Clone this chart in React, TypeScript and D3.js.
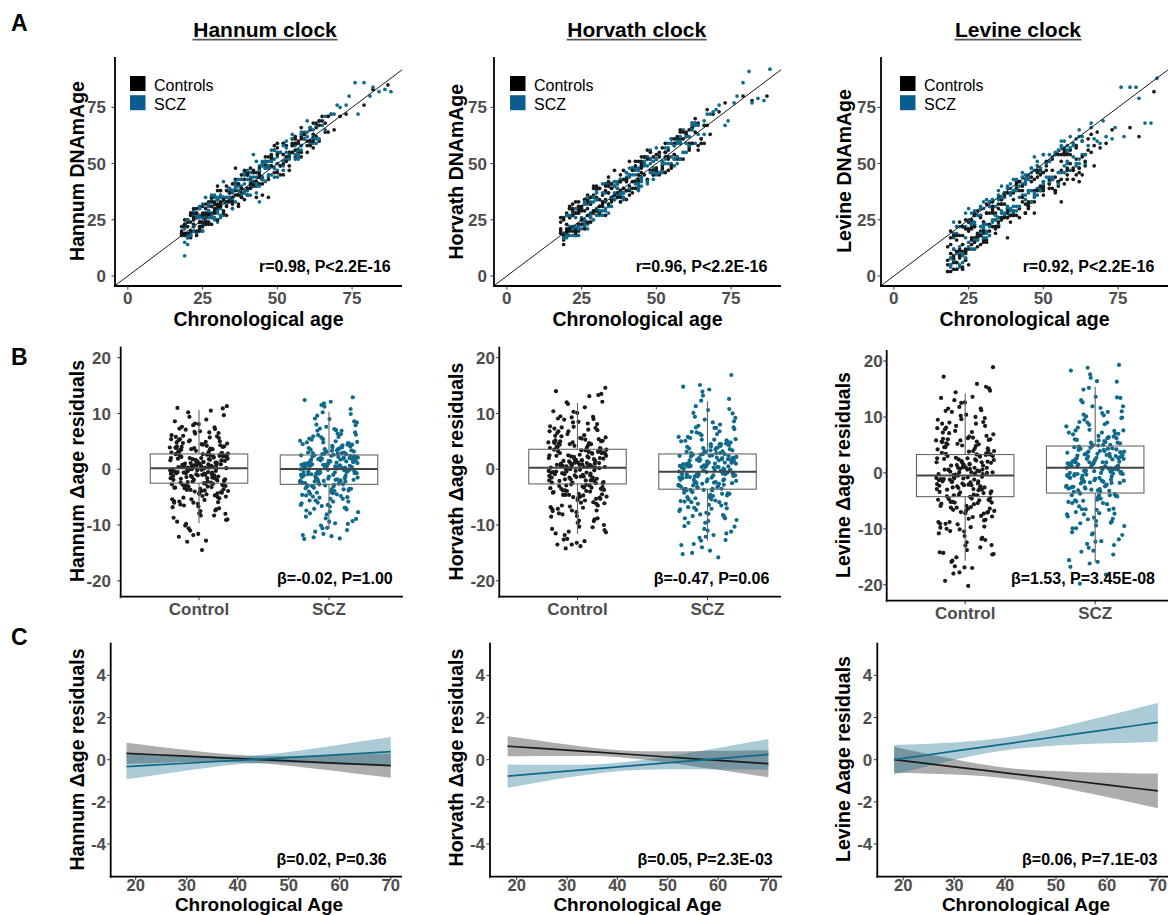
import React from "react";
import * as d3 from "d3";

const FONT = "'Liberation Sans', Arial, Helvetica, sans-serif";
const BLACK = "#1a1a1a";
const BLUE = "#0f6a8c";
const LEGEND_BLUE = "#0b5d8f";
const TICK_GRAY = "#4d4d4d";

// ---------------- DATA ----------------
const clockTitles = ["Hannum clock", "Horvath clock", "Levine clock"];
const clockNames = ["Hannum", "Horvath", "Levine"];
const legendLabels = ["Controls", "SCZ"];
const groups = ["Control", "SCZ"];
const scatterTicks = [0, 25, 50, 75];
const residTicks = [-20, -10, 0, 10, 20];
const smoothYTicks = [-4, -2, 0, 2, 4];
const smoothXTicks = [20, 30, 40, 50, 60, 70];
const corrLabels = ["r=0.98, P<2.2E-16", "r=0.96, P<2.2E-16", "r=0.92, P<2.2E-16"];
const residLabels = ["β=-0.02, P=1.00", "β=-0.47, P=0.06", "β=1.53, P=3.45E-08"];
const smoothLabels = ["β=0.02, P=0.36", "β=0.05, P=2.3E-03", "β=0.06, P=7.1E-03"];

// chronological ages (same samples for all clocks)
const agesControl = [
  22,35,48,19,27,56,41,63,30,24, 52,38,45,21,60,33,29,47,54,18,
  26,39,58,43,31,66,23,50,36,20, 44,62,28,53,40,25,57,34,49,19,
  71,32,46,61,37,22,55,42,27,64, 30,51,24,59,35,45,20,68,38,48,
  26,56,33,41,63,21,52,29,44,36, 58,23,47,39,65,31,54,25,42,60,
  18,50,34,57,28,46,37,62,22,53, 40,30,67,26,49,35,55,43,24,61,
  32,45,20,58,38,51,27,44,64,33, 48,21,56,40,29,52,36,79,23,87,
  19,24,31,27,45,21,36,58,23,50, 29,42,18,33,55,26,61,38,20,47,
  25,53,34,22,40,64,28,19,57,44, 37,21,49,30,24,62,35,46,27,56,
  20,43,32,59,26,39,23,51,66,30, 48,18,35,28,54,41,22,63,33,45,
  26,57,31,19,39,50,24,36,60,29, 43,21,53,34,27,47,65,23,38,56,
  30,18,44,25,61,35,49,22,41,28, 52,33,20,46,38,58,26,31,69,24,
  40,27,55,19,34,62,45,29,21,50, 37,59,23,42,32,54,25,73,82,67,
];
const agesSCZ = [
  25,41,33,57,20,46,29,62,37,52, 23,44,31,59,27,49,35,65,21,54,
  39,28,47,34,61,19,43,56,30,50, 26,38,53,22,45,67,32,58,40,24,
  48,36,63,28,42,55,20,51,33,60, 45,27,38,57,24,49,35,64,30,43,
  53,21,40,59,29,46,34,70,25,50, 37,62,31,44,55,22,48,39,58,27,
  42,33,52,19,47,36,61,26,41,56, 30,45,68,23,39,54,35,50,28,43,
  76,32,58,38,47,24,63,81,44,35, 84,29,52,73,40,88,31,77,48,66,
  21,34,26,48,19,40,30,57,23,44, 28,52,36,20,46,25,61,32,39,55,
  24,42,29,63,22,37,50,27,45,33, 58,20,41,31,53,26,35,47,22,60,
  30,44,19,38,56,27,49,34,64,24, 41,23,52,29,36,59,21,46,32,54,
  26,39,62,20,43,30,51,25,37,57, 33,48,22,41,28,55,35,19,45,66,
  27,53,31,40,24,58,36,47,21,50, 38,25,62,29,44,34,56,23,42,71,
  32,49,20,37,60,28,46,35,53,26, 43,74,30,79,39,86,57,69,45,82,
];

// DNAmAge per clock
const hannumControl = [
  25,33,53,19,33,53,43,62,34,20, 59,39,43,24,55,38,29,53,53,20,
  25,43,66,40,32,64,28,50,43,18, 46,68,23,52,45,28,55,35,58,23,
  71,29,49,65,31,23,61,41,29,60, 38,49,24,61,38,41,25,72,37,49,
  27,61,32,48,66,18,45,33,44,42, 55,26,49,37,71,38,55,24,46,60,
  22,46,39,60,26,48,32,63,28,58, 39,32,64,30,56,35,58,35,22,66,
  35,43,22,53,43,55,24,45,67,33, 52,20,56,46,32,50,38,76,30,85,
  22,21,38,28,43,27,36,62,18,59, 28,47,19,27,59,28,58,45,24,35,
  31,53,37,20,36,69,35,18,59,41, 41,17,48,40,26,57,33,51,27,59,
  25,42,28,63,24,47,26,45,68,31, 54,19,32,31,47,41,26,68,40,43,
  23,56,33,25,34,54,24,48,58,32, 46,28,51,33,32,43,69,20,39,62,
  25,18,48,27,60,41,46,30,39,33, 54,31,19,53,35,61,32,31,65,22,
  45,23,55,23,37,60,36,30,20,57, 36,63,28,40,34,49,22,72,83,71,
];
const hannumSCZ = [
  23,46,35,56,14,50,35,59,38,59, 26,44,27,64,31,44,38,67,18,55,
  45,27,48,38,59,9,51,59,30,47, 28,36,60,27,44,71,27,58,43,21,
  49,41,59,35,42,58,24,49,32,69, 49,24,40,52,30,52,35,69,28,44,
  52,28,38,61,30,42,38,76,20,55, 40,61,36,41,61,22,56,38,56,31,
  44,33,49,22,51,42,60,24,36,58, 35,44,72,19,46,52,37,53,28,37,
  86,35,58,35,49,31,67,80,49,34, 82,28,58,76,36,82,35,72,51,71,
  19,39,26,51,15,47,29,54,27,33, 34,51,40,17,48,20,66,33,37,63,
  27,42,25,61,29,41,44,29,51,32, 63,18,42,26,52,35,38,44,22,62,
  34,40,21,43,54,26,56,34,61,30, 40,26,47,36,33,63,19,48,42,54,
  26,45,65,25,41,24,55,26,36,53, 35,45,20,44,36,55,30,23,50,65,
  32,57,30,36,26,64,39,45,18,50, 36,32,62,26,47,35,52,28,54,75,
  35,48,17,43,64,26,51,30,55,26, 40,80,34,86,41,83,56,72,43,84,
];
const horvathControl = [
  30,35,52,16,35,58,38,64,29,33, 49,45,46,20,64,34,39,43,56,21,
  32,35,61,51,31,59,28,52,34,28, 43,68,35,53,34,29,53,44,53,19,
  73,31,53,59,39,20,59,42,36,58, 34,45,30,64,34,53,23,63,42,47,
  24,59,41,40,68,26,47,35,45,47, 59,18,53,43,61,39,52,31,37,62,
  26,54,32,52,32,53,37,66,22,46, 43,39,67,25,45,41,61,42,29,57,
  33,50,21,65,33,53,34,42,68,41, 52,30,52,42,28,57,40,80,21,80,
  26,23,39,24,48,31,36,52,28,52, 36,39,19,38,48,34,65,38,18,56,
  25,59,40,32,38,56,26,25,62,39, 41,26,45,40,20,66,34,53,30,54,
  19,49,36,52,34,39,19,55,67,29, 55,24,33,35,53,36,27,70,27,49,
  29,61,28,18,47,48,31,36,63,40, 39,21,55,42,27,52,59,33,35,61,
  35,20,51,23,56,39,47,29,51,24, 48,40,20,45,42,64,21,34,72,28,
  43,33,49,14,37,59,51,29,30,47, 35,61,20,47,32,47,30,77,78,74,
];
const horvathSCZ = [
  23,45,29,59,18,53,29,59,42,51, 28,40,31,65,23,51,41,61,21,59,
  37,32,41,41,62,18,47,54,38,45, 23,43,55,22,42,72,33,52,44,18,
  50,34,67,24,48,53,19,54,37,55, 44,34,33,60,23,43,39,63,27,48,
  57,18,42,55,33,50,31,74,25,48, 37,68,29,47,50,28,56,37,59,21,
  48,33,46,17,49,42,58,24,48,58, 29,49,72,18,39,50,39,57,28,39,
  77,29,62,36,42,28,59,91,48,35, 79,35,50,67,46,92,27,80,46,63,
  22,40,22,52,17,38,37,53,26,38, 33,47,40,19,53,26,58,41,34,59,
  22,45,29,68,18,39,46,32,43,41, 52,27,45,28,55,25,35,53,21,59,
  34,39,19,43,52,35,48,28,67,21, 39,30,51,25,42,55,22,49,27,57,
  32,37,67,17,45,30,46,23,41,50, 30,52,22,44,26,61,35,17,40,69,
  35,50,29,46,21,60,37,42,27,52, 37,21,65,35,41,37,49,22,48,76,
  37,46,18,36,62,27,51,31,52,33, 41,69,34,86,35,78,60,73,44,77,
];
const levineControl = [
  18,22,46,8,28,47,27,60,24,12, 51,28,30,16,48,33,20,43,38,5,
  16,37,45,38,16,63,22,39,32,6, 41,48,19,52,29,21,41,28,47,14,
  59,28,33,52,37,12,42,30,22,49, 19,49,11,56,26,31,12,64,26,47,
  21,43,22,42,53,6,41,27,28,26, 54,14,33,27,56,28,38,12,38,43,
  2,40,22,55,17,33,32,48,11,47, 27,20,49,14,40,32,40,35,10,57,
  23,31,3,47,26,47,12,28,51,28, 38,3,51,27,14,43,25,66,3,82,
  20,11,28,17,44,3,34,43,18,38, 18,42,2,29,42,25,58,17,18,38,
  20,39,22,24,37,54,13,10,56,28, 36,18,38,16,7,46,30,44,27,33,
  8,33,31,50,22,24,4,51,55,24, 44,7,22,29,44,39,8,45,30,33,
  17,54,15,17,27,36,25,32,47,18, 40,6,43,21,22,28,61,11,37,54,
  15,13,32,24,45,24,45,9,41,18, 39,31,9,42,29,48,12,32,57,21,
  34,15,54,2,19,42,32,26,11,46, 26,54,22,26,20,37,5,65,62,58,
];
const levineSCZ = [
  24,31,34,49,7,48,22,62,35,41, 14,45,23,62,24,39,34,58,6,54,
  36,17,47,27,49,5,41,57,21,42, 28,30,43,5,44,61,33,55,28,17,
  51,34,54,18,42,42,17,44,22,59, 37,27,40,54,8,48,26,50,33,36,
  53,19,29,47,30,38,31,69,15,54, 36,52,19,42,56,4,39,41,51,23,
  35,34,51,10,35,28,61,23,43,46, 17,43,60,9,39,55,24,41,16,46,
  84,22,56,31,36,7,62,84,41,35, 68,27,42,61,31,88,17,62,49,66,
  22,25,24,36,5,43,22,57,6,43, 18,54,29,19,33,30,50,33,37,46,
  22,31,31,60,13,27,54,12,45,25, 50,7,40,34,43,23,23,53,22,53,
  30,36,4,39,58,16,46,25,54,28, 29,22,44,19,40,57,10,48,18,54,
  23,29,65,12,44,17,50,13,37,46, 24,49,10,38,27,41,38,8,38,68,
  29,44,20,38,8,58,35,37,22,42, 30,25,50,30,34,27,60,10,40,62,
  31,38,24,28,58,16,46,36,43,12, 44,66,23,84,30,68,60,59,44,79,
];

// Δage residuals per clock
const residHannumControl = [
  0.3,-2.1,4.5,-5.8,1.2,7.9,-0.8,2.6,-3.4,0.9, -6.7,3.8,-1.5,5.2,-9.1,0.1,2.2,-4.3,6.4,-0.4,
  1.8,-2.9,10.9,-7.5,3.1,-1.1,0.6,-3.9,4.9,-5.1, 2.4,-0.2,8.6,-2.4,-10.6,1.5,-4.8,3.5,0.8,-1.9,
  6.1,-3.1,-0.6,2.9,-7.9,4.1,-2.6,1.1,11.3,-5.5, 0.4,-1.3,3.3,-8.7,5.7,-0.1,-3.6,2.0,-12.1,7.2,
  -2.2,1.6,-4.5,0.5,4.3,-6.2,2.7,-0.9,9.4,-3.0, 1.3,-1.7,5.9,-4.0,0.0,3.0,-9.8,-2.8,6.8,-0.5,
  2.1,-5.4,1.9,-1.0,4.7,-7.0,0.7,-3.3,3.7,10.2, -2.0,-14.5,2.5,-0.3,-6.0,5.4,-1.6,1.0,-4.1,8.1,
  -0.7,3.6,-11.0,0.2,-2.5,4.0,-5.0,1.7,-1.2,6.6, -3.7,2.3,-8.3,0.4,7.5,-1.4,3.9,-12.8,-0.6,5.0,
  1.4,-3.3,0.6,5.0,-1.8,2.7,-6.3,0.2,3.8,-2.7, -0.5,7.1,-4.2,1.0,-9.4,2.3,-1.2,4.6,-3.8,0.8,
  6.5,-0.9,-5.7,1.7,-2.3,9.7,-0.1,3.2,-7.4,0.5, -1.6,4.2,-3.0,0.9,-11.6,5.8,-0.6,2.0,-4.9,1.3,
  3.5,-2.0,8.2,-6.8,0.3,-1.4,4.0,-3.5,1.9,-8.3, 0.0,2.8,-2.6,6.0,-5.2,1.1,-0.4,10.5,-3.1,2.4,
  -1.0,5.4,-7.2,0.7,3.0,-2.2,-10.1,1.6,-4.4,4.8, 0.4,-3.7,2.2,-0.8,7.6,-5.9,1.5,-1.9,3.4,-13.0,
  -2.9,0.6,5.2,-4.7,1.8,-0.2,8.9,-6.5,2.6,-1.1, 3.9,-3.2,0.1,-8.0,4.4,-2.4,1.2,6.7,-5.4,0.9,
  -0.7,2.9,-4.1,11.0,-1.5,3.6,-9.0,0.3,-2.8,5.6, 1.0,-6.0,2.5,-0.3,4.1,-3.9,7.3,-1.7,-11.8,2.0,
];
const residHannumSCZ = [
  -0.4,2.3,-3.6,5.5,-1.2,0.8,-6.4,3.4,-2.2,9.9, 1.1,-4.7,0.2,7.3,-8.9,2.6,-0.9,4.4,-2.9,-11.8,
  0.6,-1.6,12.9,-5.3,3.0,-0.2,1.9,-7.7,5.0,-3.2, 2.0,-10.5,0.4,6.3,-2.5,-0.7,3.9,-4.4,1.4,11.8,
  -6.1,2.8,-1.3,0.1,-9.4,4.8,-2.7,1.6,8.4,-3.9, 0.9,-5.8,3.2,-0.5,-12.4,6.9,-1.9,2.4,-4.0,0.3,
  10.2,-2.1,1.2,-7.1,4.1,-0.1,-3.4,2.9,-5.1,7.9, -1.0,0.7,-10.9,3.6,-2.4,5.8,-0.8,1.8,-6.7,-3.0,
  2.1,11.5,-1.5,0.5,-4.9,4.6,-8.1,1.0,-2.0,6.1, -0.3,3.3,-5.6,0.0,-11.6,2.5,-1.8,9.1,-3.5,1.5,
  -7.4,4.3,-0.6,2.2,-2.8,5.3,-9.8,0.8,-1.1,3.7, -4.2,1.3,12.1,-0.4,-6.9,2.7,-2.3,7.0,-12.2,0.6,
  0.9,-2.5,4.0,-0.8,6.6,-4.3,1.5,-7.2,2.8,-1.4, 3.6,-5.6,0.4,9.0,-2.9,1.9,-10.1,4.9,-0.6,2.3,
  -3.8,7.6,-1.1,0.7,-6.0,3.2,-12.0,1.2,-2.2,5.4, 0.0,-4.5,2.5,10.8,-1.7,-8.5,3.9,-0.3,6.2,-3.1,
  1.7,-5.0,0.2,4.5,-2.6,8.0,-9.3,1.4,-0.9,3.0, -6.6,2.1,-1.9,5.9,-3.5,0.6,12.4,-4.8,1.8,-0.4,
  4.2,-7.9,2.7,-2.1,0.8,6.4,-11.2,3.4,-1.3,1.0, -5.3,2.0,-0.7,7.2,-3.0,4.7,-8.8,0.5,-2.4,9.6,
  1.3,-4.1,3.8,-1.6,-10.6,5.1,0.1,-3.3,2.4,-6.4, 0.3,6.9,-2.7,1.6,-5.8,3.5,-0.5,11.2,-4.6,2.2,
  -1.8,4.4,-7.6,0.9,-3.6,5.7,1.1,-9.7,2.9,-0.2, 3.1,-12.5,1.7,-2.0,8.6,-4.0,0.6,-6.9,4.8,-1.0,
];
const residHorvathControl = [
  0.5,-3.2,5.6,-7.1,1.8,9.3,-1.2,3.4,-4.6,0.2, -8.4,4.7,-2.0,6.8,-10.9,0.9,2.9,-5.3,7.6,-0.6,
  2.3,-3.8,13.5,-9.2,4.0,-1.5,1.1,-4.9,6.1,-6.5, 3.1,-0.3,10.4,-2.9,-12.5,1.9,-6.0,4.6,1.0,-2.4,
  7.7,-3.9,-0.8,3.8,-9.6,5.2,-3.3,1.4,14.6,-6.9, 0.7,-1.7,4.2,-10.7,7.1,0.0,-4.5,2.6,-13.5,9.0,
  -2.7,2.0,-5.6,0.6,5.4,-7.7,3.5,-1.1,11.7,-3.7, 1.6,-2.1,7.4,-5.0,0.3,3.9,-11.8,-3.5,8.5,-0.4,
  2.8,-6.7,2.4,-1.3,5.9,-8.8,1.2,-4.2,4.7,12.0, -2.5,-13.8,3.2,-0.2,-7.4,6.8,-2.0,1.5,-5.1,10.1,
  -0.9,4.5,-11.2,0.4,-3.1,5.0,-6.2,2.2,-1.5,8.2, -4.6,2.9,-10.3,0.8,9.4,-1.8,4.8,-12.9,-0.7,13.3,
  1.7,-4.1,0.8,6.3,-2.3,3.4,-7.9,0.3,4.8,-3.4, -0.6,8.9,-5.3,1.2,-11.5,2.9,-1.5,5.7,-4.7,1.0,
  8.1,-1.1,-7.2,2.1,-2.9,12.1,-0.1,4.0,-9.3,0.6, -2.0,5.3,-3.8,1.1,-13.2,7.3,-0.8,2.5,-6.1,1.6,
  4.4,-2.5,10.3,-8.5,0.4,-1.8,5.0,-4.4,2.4,-10.4, 0.0,3.5,-3.3,7.5,-6.5,1.4,-0.5,13.1,-3.9,3.0,
  -1.3,6.8,-9.0,0.9,3.8,-2.8,-12.6,2.0,-5.5,6.0, 0.5,-4.6,2.8,-1.0,9.5,-7.4,1.9,-2.4,4.3,-14.2,
  -3.6,0.8,6.5,-5.9,2.3,-0.3,11.1,-8.1,3.3,-1.4, 4.9,-4.0,0.2,-10.0,5.5,-3.0,1.5,8.4,-6.8,1.1,
  -0.9,3.6,-5.1,14.0,-1.9,4.5,-11.3,0.4,-3.5,7.0, 1.3,-7.5,3.1,-0.4,5.1,-4.9,9.1,-2.1,-13.5,2.5,
];
const residHorvathSCZ = [
  -1.0,2.0,-4.6,5.8,-1.8,0.4,-7.5,3.6,-2.9,10.8, 0.9,-5.8,-0.3,7.8,-10.3,2.5,-1.4,4.6,-3.7,-13.6,
  0.4,-2.2,16.9,-6.4,3.1,-0.8,1.7,-9.1,5.3,-4.0, 1.8,-12.1,0.1,6.8,-3.2,-1.2,4.1,-5.4,1.2,13.9,
  -7.2,2.9,-1.9,-0.2,-11.0,5.1,-3.5,1.5,9.2,-4.8, 0.6,-7.0,3.3,-0.9,-15.8,7.5,-2.5,2.4,-5.0,0.1,
  12.3,-2.8,1.0,-8.4,4.3,-0.5,-4.2,2.9,-6.2,8.6, -1.5,0.5,-12.7,3.8,-3.1,6.3,-1.3,1.7,-8.0,-3.8,
  2.0,15.1,-2.1,0.3,-5.9,4.8,-9.6,0.9,-2.6,6.6, -0.7,3.4,-6.8,-0.1,-14.0,2.4,-2.3,10.1,-4.4,1.4,
  -8.8,4.5,-1.0,2.1,-3.5,5.6,-11.5,0.7,-1.6,3.9, -5.2,1.2,14.3,-0.9,-8.2,2.6,-2.9,7.4,-15.0,0.5,
  0.6,-3.6,4.5,-1.3,7.5,-5.4,1.0,-8.8,2.7,-1.9, 3.8,-6.9,-0.1,10.6,-3.5,1.8,-12.3,5.4,-1.1,2.3,
  -4.7,8.9,-1.6,0.4,-7.3,3.4,-14.6,1.0,-2.8,6.1, -0.4,-5.6,2.6,12.6,-2.2,-10.2,4.2,-0.7,7.2,-3.8,
  1.6,-6.2,-0.2,5.0,-3.2,9.4,-11.2,1.2,-1.4,3.2, -8.1,2.2,-2.4,6.7,-4.3,0.4,14.8,-5.9,1.7,-0.8,
  4.5,-9.6,2.7,-2.6,0.6,7.4,-13.4,3.6,-1.8,0.9, -6.5,2.0,-1.1,8.4,-3.7,5.2,-10.7,0.3,-3.0,11.3,
  1.2,-5.0,4.0,-2.0,-12.8,5.8,-0.2,-4.1,2.4,-7.8, 0.1,8.0,-3.3,1.5,-7.1,3.7,-0.9,13.2,-5.7,2.1,
  -2.3,4.8,-9.3,0.8,-4.4,6.4,1.0,-11.8,2.9,-0.6, 3.1,-15.2,1.6,-2.5,10.0,-4.9,0.5,-8.5,5.3,-1.5,
];
const residLevineControl = [
  -0.8,-4.4,6.2,-9.1,1.9,11.8,-2.0,3.9,-6.2,0.0, -11.3,5.5,-3.1,8.4,-14.6,0.7,3.0,-7.3,9.6,-1.3,
  2.4,-5.2,15.1,-12.4,4.6,-2.4,0.9,-6.8,7.3,-8.8, 3.2,-1.0,13.4,-4.0,-16.7,1.8,-8.2,5.3,0.6,-3.5,
  9.5,-5.6,-1.6,4.4,-13.0,6.1,-4.9,1.4,18.9,-9.7, 0.5,-2.6,4.9,-14.2,8.8,-0.4,-6.4,2.6,-19.3,11.2,
  -3.9,1.9,-7.9,0.2,6.6,-10.5,3.6,-1.9,14.4,-5.3, 1.6,-3.0,9.1,-7.0,-0.2,4.3,-15.7,-4.8,10.4,-1.1,
  2.9,-9.2,2.3,-2.2,7.1,-12.0,1.1,-5.9,5.6,13.0, -3.6,-20.2,3.4,-0.7,-10.1,8.0,-2.9,1.3,-7.1,12.6,
  -1.5,5.1,-15.1,0.1,-4.3,6.0,-8.5,2.1,-2.3,10.0, -6.6,3.3,-13.8,0.6,11.5,-2.7,5.8,-17.0,-1.2,15.4,
  1.5,-5.5,0.4,7.5,-3.3,3.8,-10.0,-0.2,5.8,-4.8, -1.2,10.9,-7.0,1.0,-14.3,3.1,-2.4,6.9,-6.1,0.6,
  9.8,-1.9,-9.1,2.2,-4.0,14.7,-0.8,4.6,-11.8,0.1, -2.9,6.3,-5.2,0.9,-16.9,8.8,-1.5,2.7,-7.8,1.5,
  5.1,-3.6,12.5,-10.8,-0.1,-2.6,5.9,-5.9,2.5,-13.3, -0.5,3.9,-4.6,9.0,-8.4,1.4,-1.1,15.9,-5.3,3.3,
  -2.1,8.1,-11.6,0.7,4.2,-3.9,-15.9,2.0,-7.2,7.2, 0.3,-6.2,3.0,-1.7,11.5,-9.6,1.9,-3.4,4.8,-18.0,
  -4.9,0.6,7.8,-7.7,2.4,-0.9,13.6,-10.4,3.5,-2.2, 5.6,-5.4,-0.3,-12.9,6.5,-4.2,1.3,10.2,-8.8,0.9,
  -1.6,4.0,-6.8,17.2,-2.8,5.2,-14.5,0.1,-4.7,8.4, 1.0,-9.8,3.3,-1.0,6.0,-6.4,11.1,-3.0,-17.8,2.6,
];
const residLevineSCZ = [
  0.4,3.7,-3.1,7.6,-0.6,1.9,-7.4,5.0,-1.9,13.5, 2.2,-5.4,0.8,10.1,-11.1,3.9,-0.2,6.5,-3.0,-15.6,
  1.2,-1.1,19.3,-6.6,4.6,0.2,2.9,-9.5,7.2,-3.6, 3.0,-13.9,1.3,9.0,-2.6,-0.1,5.8,-5.1,2.4,17.6,
  -7.8,4.1,-1.0,0.6,-12.3,6.9,-3.2,2.5,11.9,-4.6, 1.5,-7.3,4.8,0.0,-18.2,10.4,-1.8,3.4,-4.9,0.8,
  15.2,-2.3,1.9,-9.0,6.2,0.3,-4.0,4.3,-6.5,11.0, -0.9,1.1,-14.6,5.4,-2.8,8.7,-0.5,2.6,-8.6,-3.4,
  2.9,18.8,-1.4,0.9,-6.0,7.0,-10.8,1.7,-2.1,9.5, 0.1,4.9,-7.0,0.5,-16.2,3.6,-1.6,13.0,-4.2,2.3,
  -9.9,6.4,-0.3,3.2,-3.3,8.1,-12.9,1.4,-0.8,5.5, -5.0,2.0,16.4,-0.2,-8.9,3.8,-2.5,10.7,-19.8,1.0,
  1.8,-2.6,6.2,0.2,9.8,-4.0,2.6,-8.2,4.5,-0.6, 5.7,-6.5,1.3,13.6,-2.5,3.4,-12.7,7.6,0.0,4.1,
  -3.8,11.9,-0.9,1.9,-7.4,5.3,-15.9,2.4,-1.8,8.6, 0.9,-5.4,4.3,16.3,-1.3,-10.6,6.3,0.4,9.9,-2.9,
  3.1,-6.4,1.1,7.2,-2.4,12.6,-11.9,2.7,-0.5,5.0, -8.3,3.8,-1.4,9.1,-4.1,1.6,18.3,-5.6,3.3,0.2,
  6.6,-9.9,4.4,-1.7,1.7,10.3,-14.1,5.4,-1.0,2.1, -6.6,3.5,-0.2,11.6,-3.1,7.5,-11.0,1.4,-2.3,14.9,
  2.8,-4.8,6.0,-1.2,-13.4,8.3,0.6,-3.7,4.2,-8.0, 1.2,10.9,-2.8,3.0,-7.2,5.9,-0.1,17.0,-5.2,3.9,
  -1.5,7.0,-9.4,2.0,-4.0,9.0,2.5,-12.2,4.7,0.7, 5.0,-16.8,3.2,-1.6,13.4,-4.4,1.9,-8.7,7.7,-0.4,
];

// boxplot statistics: [lower whisker, Q1, median, Q3, upper whisker]
const boxHannumControl = [-9.7, -2.5, 0.18, 2.74, 10.6];
const boxHannumSCZ = [-10.7, -2.7, 0.05, 2.56, 10.3];
const boxHorvathControl = [-11.6, -2.63, 0.29, 3.58, 11.9];
const boxHorvathSCZ = [-12.8, -3.58, -0.43, 2.74, 12.2];
const boxLevineControl = [-15.7, -4.25, -0.48, 3.28, 14.2];
const boxLevineSCZ = [-16.0, -3.6, 0.9, 4.8, 15.4];

// linear fits of Δage residuals vs chronological age, with 95% CI
const fitAges = [18.2, 24, 30, 36, 42, 48, 54, 60, 66, 70];
const fitHannumControl = [0.30, 0.235, 0.168, 0.10, 0.033, -0.034, -0.10, -0.17, -0.236, -0.28];
const loHannumControl = [-0.20, -0.16, -0.12, -0.11, -0.14, -0.24, -0.39, -0.56, -0.74, -0.86];
const hiHannumControl = [0.80, 0.63, 0.46, 0.31, 0.20, 0.17, 0.19, 0.22, 0.27, 0.30];
const fitHannumSCZ = [-0.33, -0.25, -0.168, -0.084, -0.004, 0.079, 0.161, 0.24, 0.325, 0.38];
const loHannumSCZ = [-0.93, -0.72, -0.51, -0.32, -0.18, -0.15, -0.18, -0.23, -0.28, -0.32];
const hiHannumSCZ = [0.27, 0.22, 0.17, 0.15, 0.18, 0.31, 0.50, 0.71, 0.93, 1.08];
const fitHorvathControl = [0.64, 0.547, 0.451, 0.355, 0.259, 0.163, 0.066, -0.03, -0.126, -0.19];
const loHorvathControl = [0.16, 0.18, 0.18, 0.17, 0.08, -0.07, -0.27, -0.48, -0.69, -0.83];
const hiHorvathControl = [1.12, 0.92, 0.72, 0.54, 0.43, 0.40, 0.40, 0.42, 0.44, 0.45];
const fitHorvathSCZ = [-0.78, -0.665, -0.545, -0.426, -0.307, -0.188, -0.068, 0.051, 0.17, 0.25];
const loHorvathSCZ = [-1.33, -1.09, -0.85, -0.65, -0.51, -0.46, -0.45, -0.46, -0.47, -0.48];
const hiHorvathSCZ = [-0.23, -0.24, -0.24, -0.21, -0.10, 0.09, 0.32, 0.56, 0.81, 0.98];
const fitLevineControl = [0.0, -0.166, -0.337, -0.509, -0.68, -0.851, -1.023, -1.194, -1.366, -1.48];
const loLevineControl = [-0.62, -0.65, -0.70, -0.78, -0.94, -1.18, -1.47, -1.77, -2.09, -2.30];
const hiLevineControl = [0.62, 0.32, 0.02, -0.24, -0.43, -0.53, -0.58, -0.62, -0.65, -0.66];
const fitLevineSCZ = [0.0, 0.198, 0.403, 0.608, 0.813, 1.018, 1.223, 1.428, 1.633, 1.77];
const loLevineSCZ = [-0.70, -0.36, -0.01, 0.29, 0.51, 0.64, 0.72, 0.78, 0.82, 0.85];
const hiLevineSCZ = [0.70, 0.75, 0.82, 0.93, 1.12, 1.40, 1.73, 2.08, 2.45, 2.69];

const scatterControl = [hannumControl, horvathControl, levineControl];
const scatterSCZ = [hannumSCZ, horvathSCZ, levineSCZ];
const residControl = [residHannumControl, residHorvathControl, residLevineControl];
const residSCZ = [residHannumSCZ, residHorvathSCZ, residLevineSCZ];
const boxControl = [boxHannumControl, boxHorvathControl, boxLevineControl];
const boxSCZ = [boxHannumSCZ, boxHorvathSCZ, boxLevineSCZ];
const fits = [
  [
    { fit: fitHannumControl, lo: loHannumControl, hi: hiHannumControl },
    { fit: fitHannumSCZ, lo: loHannumSCZ, hi: hiHannumSCZ },
  ],
  [
    { fit: fitHorvathControl, lo: loHorvathControl, hi: hiHorvathControl },
    { fit: fitHorvathSCZ, lo: loHorvathSCZ, hi: hiHorvathSCZ },
  ],
  [
    { fit: fitLevineControl, lo: loLevineControl, hi: hiLevineControl },
    { fit: fitLevineSCZ, lo: loLevineSCZ, hi: hiLevineSCZ },
  ],
];

// ---------------- LAYOUT ----------------
const layoutA = [
  { ax: 115, right: 402, gap: 9, ylabX: 84, ylabY: 171, titleX: 265, titleW: 145, xlabX: 258.5, ann: 390.7, legX: 130 },
  { ax: 494, right: 781, gap: 7, ylabX: 462.5, ylabY: 171.7, titleX: 636.7, titleW: 140, xlabX: 637.5, ann: 767.3, legX: 510 },
  { ax: 881, right: 1168, gap: 5, ylabX: 850.5, ylabY: 171, titleX: 1018, titleW: 127, xlabX: 1024.5, ann: 1154.3, legX: 900 },
];
const layoutB = [
  { ax: 120.7, right: 403, c1: 199, c2: 329, top: 346.7, bottom: 596.7, gap: 9.7, ylabX: 83.5, ylabY: 471, ann: 392.7 },
  { ax: 499.3, right: 781, c1: 577.5, c2: 707.5, top: 346.7, bottom: 596.7, gap: 4.3, ylabX: 462.5, ylabY: 471.5, ann: 769.3 },
  { ax: 886.7, right: 1168, c1: 965.2, c2: 1095.2, top: 350, bottom: 600.7, gap: 4, ylabX: 850, ylabY: 475, ann: 1155 },
];
const layoutC = [
  { ax: 110.7, right: 402, xd: [15.1, 72.2], gap: 4.7, ylabX: 83.5, ylabY: 759.5, xlabX: 259, ann: 386.7 },
  { ax: 490, right: 782, xd: [14.7, 72.7], gap: 5, ylabX: 462.5, ylabY: 757.5, xlabX: 637.5, ann: 772.7 },
  { ax: 877.3, right: 1168, xd: [14.9, 72.0], gap: 5, ylabX: 850, ylabY: 759, xlabX: 1026, ann: 1157.3 },
];

const TICK_FS = 17;
const TITLE_FS = 19.5;
const ANN_FS = 16;

function YAxis({ x, scale, ticks, gap }: any) {
  return (
    <g>
      {ticks.map((t: number) => (
        <g key={t}>
          <line x1={x - 3.5} x2={x} y1={scale(t)} y2={scale(t)} stroke="#333" strokeWidth={1} />
          <text x={x - gap} y={scale(t)} dy="0.36em" textAnchor="end" fontSize={TICK_FS} fontWeight="bold" fill={TICK_GRAY}>
            {t}
          </text>
        </g>
      ))}
    </g>
  );
}

function Axes({ x0, x1, y0, y1 }: any) {
  return (
    <g>
      <line x1={x0} x2={x0} y1={y0} y2={y1 + 1} stroke="#000" strokeWidth={1.8} />
      <line x1={x0 - 0.9} x2={x1} y1={y1} y2={y1} stroke="#000" strokeWidth={1.8} />
    </g>
  );
}

function ScatterPanel({ idx }: { idx: number }) {
  const L = layoutA[idx];
  const top = 57, bottom = 286;
  const xs = d3.scaleLinear().domain([-4.3, 91.7]).range([L.ax, L.right]);
  const ys = d3.scaleLinear().domain([-4.45, 97.4]).range([bottom, top]);
  const ctrl = scatterControl[idx];
  const scz = scatterSCZ[idx];
  const pts: { x: number; y: number; c: string }[] = [];
  const n = Math.max(agesControl.length, agesSCZ.length);
  for (let i = 0; i < n; i++) {
    if (i < agesControl.length && i < ctrl.length) pts.push({ x: agesControl[i], y: ctrl[i], c: BLACK });
    if (i < agesSCZ.length && i < scz.length) pts.push({ x: agesSCZ[i], y: scz[i], c: BLUE });
  }
  const d0 = xs.domain()[0], d1 = xs.domain()[1];
  return (
    <g>
      <text x={L.titleX} y={37.3} textAnchor="middle" fontSize={21} fontWeight="bold" fill="#000">
        {clockTitles[idx]}
      </text>
      <line x1={L.titleX - L.titleW / 2} x2={L.titleX + L.titleW / 2} y1={39.6} y2={39.6} stroke="#555" strokeWidth={1.6} />
      {pts.map((p, i) => (
        <circle key={i} cx={xs(p.x)} cy={ys(p.y)} r={1.85} fill={p.c} />
      ))}
      <line x1={xs(d0)} y1={ys(d0)} x2={xs(d1)} y2={ys(d1)} stroke="#000" strokeWidth={0.9} />
      <Axes x0={L.ax} x1={L.right} y0={top} y1={bottom} />
      <YAxis x={L.ax} scale={ys} ticks={scatterTicks} gap={L.gap} />
      {scatterTicks.map((t) => (
        <g key={t}>
          <line x1={xs(t)} x2={xs(t)} y1={bottom} y2={bottom + 3.5} stroke="#333" strokeWidth={1} />
          <text x={xs(t)} y={bottom + 17.5} textAnchor="middle" fontSize={TICK_FS} fontWeight="bold" fill={TICK_GRAY}>
            {t}
          </text>
        </g>
      ))}
      <text x={L.xlabX} y={326} textAnchor="middle" fontSize={TITLE_FS} fontWeight="bold" fill="#000">
        Chronological age
      </text>
      <text transform={`translate(${L.ylabX},${L.ylabY}) rotate(-90)`} textAnchor="middle" fontSize={TITLE_FS} fontWeight="bold" fill="#000">
        {clockNames[idx]} DNAmAge
      </text>
      <text x={L.ann} y={271.7} textAnchor="end" fontSize={ANN_FS} fontWeight="bold" fill="#000">
        {corrLabels[idx]}
      </text>
      {legendLabels.map((lab, i) => (
        <g key={lab}>
          <rect x={L.legX} y={76 + i * 19.2} width={15.5} height={15} fill={i === 0 ? "#000" : LEGEND_BLUE} />
          <text x={L.legX + 24} y={90.5 + i * 19.2} fontSize={16} fill="#000">
            {lab}
          </text>
        </g>
      ))}
    </g>
  );
}

function BoxPanel({ idx }: { idx: number }) {
  const L = layoutB[idx];
  const ys = d3.scaleLinear().domain([-22.85, 21.97]).range([L.bottom, L.top]);
  const xs = d3.scalePoint<string>().domain(groups).range([L.c1, L.c2]);
  const unit = L.c2 - L.c1;
  const jitterHalf = 0.225 * unit;
  const boxHalf = 0.375 * unit;
  const sets = [
    { g: groups[0], vals: residControl[idx], box: boxControl[idx], c: BLACK },
    { g: groups[1], vals: residSCZ[idx], box: boxSCZ[idx], c: BLUE },
  ];
  return (
    <g>
      {sets.map((s) => {
        const cx = xs(s.g) as number;
        return (
          <g key={s.g}>
            {s.vals.map((v, i) => {
              const off = (((i * 0.6180339887 + 0.31) % 1) - 0.5) * 2 * jitterHalf;
              return <circle key={i} cx={cx + off} cy={ys(v)} r={2.1} fill={s.c} />;
            })}
          </g>
        );
      })}
      {sets.map((s) => {
        const cx = xs(s.g) as number;
        const [lw, q1, med, q3, uw] = s.box;
        return (
          <g key={"b" + s.g}>
            <line x1={cx} x2={cx} y1={ys(q3)} y2={ys(uw)} stroke="#666" strokeWidth={1.1} />
            <line x1={cx} x2={cx} y1={ys(q1)} y2={ys(lw)} stroke="#666" strokeWidth={1.1} />
            <rect x={cx - boxHalf} y={ys(q3)} width={2 * boxHalf} height={ys(q1) - ys(q3)} fill="none" stroke="#666" strokeWidth={1.1} />
            <line x1={cx - boxHalf} x2={cx + boxHalf} y1={ys(med)} y2={ys(med)} stroke="#444" strokeWidth={2} />
          </g>
        );
      })}
      <Axes x0={L.ax} x1={L.right} y0={L.top} y1={L.bottom} />
      <YAxis x={L.ax} scale={ys} ticks={residTicks} gap={L.gap} />
      {groups.map((g) => (
        <g key={g}>
          <line x1={xs(g)} x2={xs(g)} y1={L.bottom} y2={L.bottom + 3.5} stroke="#333" strokeWidth={1} />
          <text x={xs(g)} y={L.bottom + 18.3} textAnchor="middle" fontSize={TICK_FS} fontWeight="bold" fill={TICK_GRAY}>
            {g}
          </text>
        </g>
      ))}
      <text transform={`translate(${L.ylabX},${L.ylabY}) rotate(-90)`} textAnchor="middle" fontSize={TITLE_FS} fontWeight="bold" fill="#000">
        {clockNames[idx]} Δage residuals
      </text>
      <text x={L.ann} y={584} textAnchor="end" fontSize={ANN_FS} fontWeight="bold" fill="#000">
        {residLabels[idx]}
      </text>
    </g>
  );
}

function SmoothPanel({ idx }: { idx: number }) {
  const L = layoutC[idx];
  const top = 642.7, bottom = 876.7;
  const xs = d3.scaleLinear().domain(L.xd).range([L.ax, L.right]);
  const ys = d3.scaleLinear().domain([-5.55, 5.55]).range([bottom, top]);
  const series = fits[idx];
  const area = d3
    .area<number>()
    .x((_, i) => xs(fitAges[i]))
    .curve(d3.curveMonotoneX);
  const line = d3
    .line<number>()
    .x((_, i) => xs(fitAges[i]))
    .y((d) => ys(d));
  const fills = [
    { fill: "#333333", op: 0.4, stroke: BLACK },
    { fill: BLUE, op: 0.35, stroke: BLUE },
  ];
  return (
    <g>
      {series.map((s, k) => {
        const a = area.y0((_, i) => ys(s.lo[i])).y1((_, i) => ys(s.hi[i]));
        return <path key={"r" + k} d={a(s.fit) || ""} fill={fills[k].fill} fillOpacity={fills[k].op} />;
      })}
      {series.map((s, k) => (
        <path key={"l" + k} d={line(s.fit) || ""} fill="none" stroke={fills[k].stroke} strokeWidth={1.7} />
      ))}
      <Axes x0={L.ax} x1={L.right} y0={top} y1={bottom} />
      <YAxis x={L.ax} scale={ys} ticks={smoothYTicks} gap={L.gap} />
      {smoothXTicks.map((t) => (
        <g key={t}>
          <line x1={xs(t)} x2={xs(t)} y1={bottom} y2={bottom + 3.5} stroke="#333" strokeWidth={1} />
          <text x={xs(t)} y={bottom + 13.8} textAnchor="middle" fontSize={16.5} fontWeight="bold" fill={TICK_GRAY}>
            {t}
          </text>
        </g>
      ))}
      <text x={L.xlabX} y={911} textAnchor="middle" fontSize={19} fontWeight="bold" fill="#000">
        Chronological Age
      </text>
      <text transform={`translate(${L.ylabX},${L.ylabY}) rotate(-90)`} textAnchor="middle" fontSize={TITLE_FS} fontWeight="bold" fill="#000">
        {clockNames[idx]} Δage residuals
      </text>
      <text x={L.ann} y={865} textAnchor="end" fontSize={ANN_FS} fontWeight="bold" fill="#000">
        {smoothLabels[idx]}
      </text>
    </g>
  );
}

export default function App() {
  React.useEffect(() => {
    document.body.style.margin = "0";
  }, []);
  return (
    <svg
      width={1168}
      height={915}
      viewBox="0 0 1168 915"
      style={{ display: "block", position: "absolute", left: 0, top: 0, fontFamily: FONT }}
    >
      <rect width={1168} height={915} fill="#fff" />
      <text x={11} y={30.5} fontSize={23} fontWeight="bold" fill="#000">A</text>
      <text x={11} y={365} fontSize={23} fontWeight="bold" fill="#000">B</text>
      <text x={11} y={645} fontSize={23} fontWeight="bold" fill="#000">C</text>
      {[0, 1, 2].map((i) => (
        <ScatterPanel key={"a" + i} idx={i} />
      ))}
      {[0, 1, 2].map((i) => (
        <BoxPanel key={"b" + i} idx={i} />
      ))}
      {[0, 1, 2].map((i) => (
        <SmoothPanel key={"c" + i} idx={i} />
      ))}
    </svg>
  );
}
